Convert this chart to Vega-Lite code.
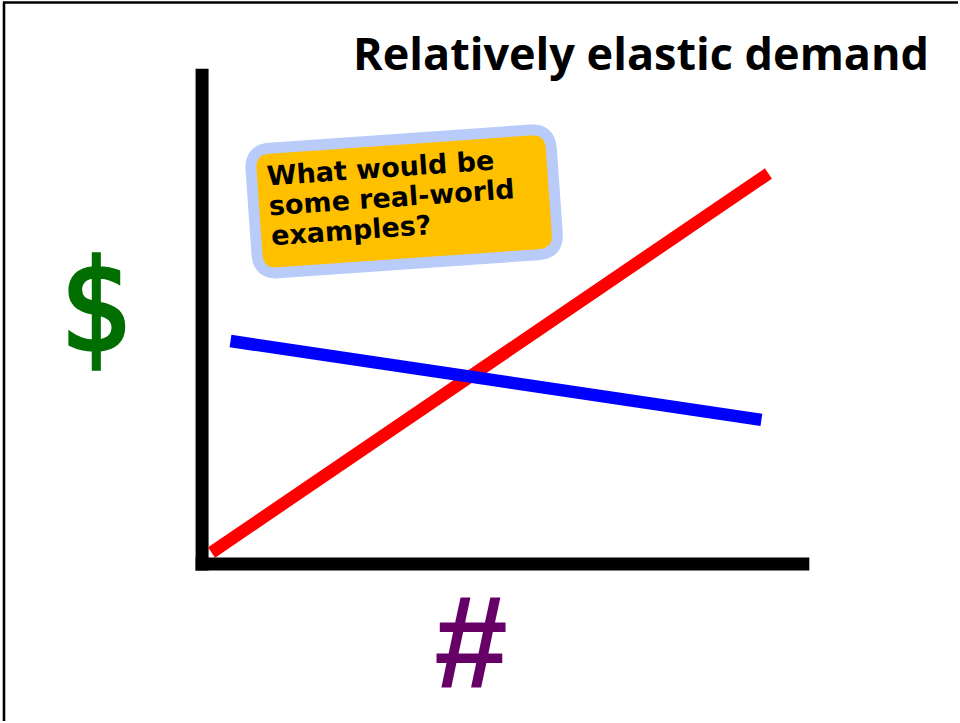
{
  "$schema": "https://vega.github.io/schema/vega-lite/v6.json",
  "width": 960,
  "height": 723,
  "autosize": {"type": "fit", "contains": "padding"},
  "padding": 0,
  "background": "white",
  "config": {"view": {"stroke": null}},
  "datasets": {
    "frame": [
      {"part": "top", "x": 3, "x2": 960, "y": 2.5, "y2": 2.5},
      {"part": "left", "x": 4, "x2": 4, "y": 2.5, "y2": 723}
    ],
    "axes": [
      {"part": "price axis", "x": 202.5, "x2": 202.5, "y": 69, "y2": 572},
      {"part": "quantity axis", "x": 196, "x2": 811, "y": 565.5, "y2": 565.5}
    ],
    "curves": [
      {"series": "supply", "x": 212, "y": 554},
      {"series": "supply", "x": 770, "y": 174},
      {"series": "demand", "x": 231, "y": 342},
      {"series": "demand", "x": 763, "y": 421}
    ],
    "callout": [
      {"x": 405, "y": 202, "label": ["What would be", "some real-world", "examples?"], "tx": 268, "ty": 186}
    ],
    "title": [{"x": 931, "y": 70, "label": "Relatively elastic demand"}],
    "ylab": [{"x": 97, "y": 351, "label": "$"}],
    "xlab": [{"x": 472, "y": 690, "label": "#"}]
  },
  "layer": [
    {
      "data": {"name": "frame"},
      "mark": {"type": "rule", "color": "black", "strokeWidth": 2.6, "strokeCap": "butt"},
      "encoding": {
        "x": {"field": "x", "type": "quantitative", "scale": {"domain": [0, 960], "nice": false, "zero": false}, "axis": null},
        "x2": {"field": "x2"},
        "y": {"field": "y", "type": "quantitative", "scale": {"domain": [723, 0], "nice": false, "zero": false}, "axis": null},
        "y2": {"field": "y2"}
      }
    },
    {
      "data": {"name": "axes"},
      "mark": {"type": "rule", "color": "black", "strokeWidth": 13, "strokeCap": "butt"},
      "encoding": {
        "x": {"field": "x", "type": "quantitative", "axis": null},
        "x2": {"field": "x2"},
        "y": {"field": "y", "type": "quantitative", "axis": null},
        "y2": {"field": "y2"}
      }
    },
    {
      "data": {"name": "curves"},
      "mark": {"type": "line", "strokeWidth": 12.5, "strokeCap": "butt"},
      "encoding": {
        "x": {"field": "x", "type": "quantitative", "axis": null},
        "y": {"field": "y", "type": "quantitative", "axis": null},
        "color": {"field": "series", "type": "nominal", "scale": {"domain": ["supply", "demand"], "range": ["#FF0000", "#0000FF"]}, "legend": null},
        "detail": {"field": "series"}
      }
    },
    {
      "data": {"name": "callout"},
      "mark": {
        "type": "point",
        "shape": "M -0.867 -0.415 L 0.867 -0.415 Q 1 -0.415 1 -0.282 L 1 0.282 Q 1 0.415 0.867 0.415 L -0.867 0.415 Q -1 0.415 -1 0.282 L -1 -0.282 Q -1 -0.415 -0.867 -0.415 Z",
        "size": 90601,
        "angle": -4,
        "filled": true,
        "fill": "#FFC000",
        "fillOpacity": 1,
        "stroke": "#B8CBF9",
        "strokeWidth": 11,
        "opacity": 1
      },
      "encoding": {
        "x": {"field": "x", "type": "quantitative", "axis": null},
        "y": {"field": "y", "type": "quantitative", "axis": null}
      }
    },
    {
      "data": {"name": "callout"},
      "mark": {"type": "text", "align": "left", "baseline": "alphabetic", "angle": -4, "font": "DejaVu Sans", "fontWeight": "bold", "fontSize": 27, "lineHeight": 30, "color": "black"},
      "encoding": {
        "x": {"field": "tx", "type": "quantitative", "axis": null},
        "y": {"field": "ty", "type": "quantitative", "axis": null},
        "text": {"field": "label"}
      }
    },
    {
      "data": {"name": "title"},
      "mark": {"type": "text", "align": "right", "baseline": "alphabetic", "font": "Open Sans", "fontWeight": "bold", "fontSize": 45, "color": "black"},
      "encoding": {
        "x": {"field": "x", "type": "quantitative", "axis": null},
        "y": {"field": "y", "type": "quantitative", "axis": null},
        "text": {"field": "label"}
      }
    },
    {
      "data": {"name": "ylab"},
      "mark": {"type": "text", "align": "center", "baseline": "alphabetic", "font": "DejaVu Sans Condensed", "fontSize": 126, "fill": "#006E00", "stroke": "#006E00", "strokeWidth": 3.5},
      "encoding": {
        "x": {"field": "x", "type": "quantitative", "axis": null},
        "y": {"field": "y", "type": "quantitative", "axis": null},
        "text": {"field": "label"}
      }
    },
    {
      "data": {"name": "xlab"},
      "mark": {"type": "text", "align": "center", "baseline": "alphabetic", "font": "Liberation Sans", "fontWeight": "bold", "fontSize": 132, "color": "#660066"},
      "encoding": {
        "x": {"field": "x", "type": "quantitative", "axis": null},
        "y": {"field": "y", "type": "quantitative", "axis": null},
        "text": {"field": "label"}
      }
    }
  ]
}
